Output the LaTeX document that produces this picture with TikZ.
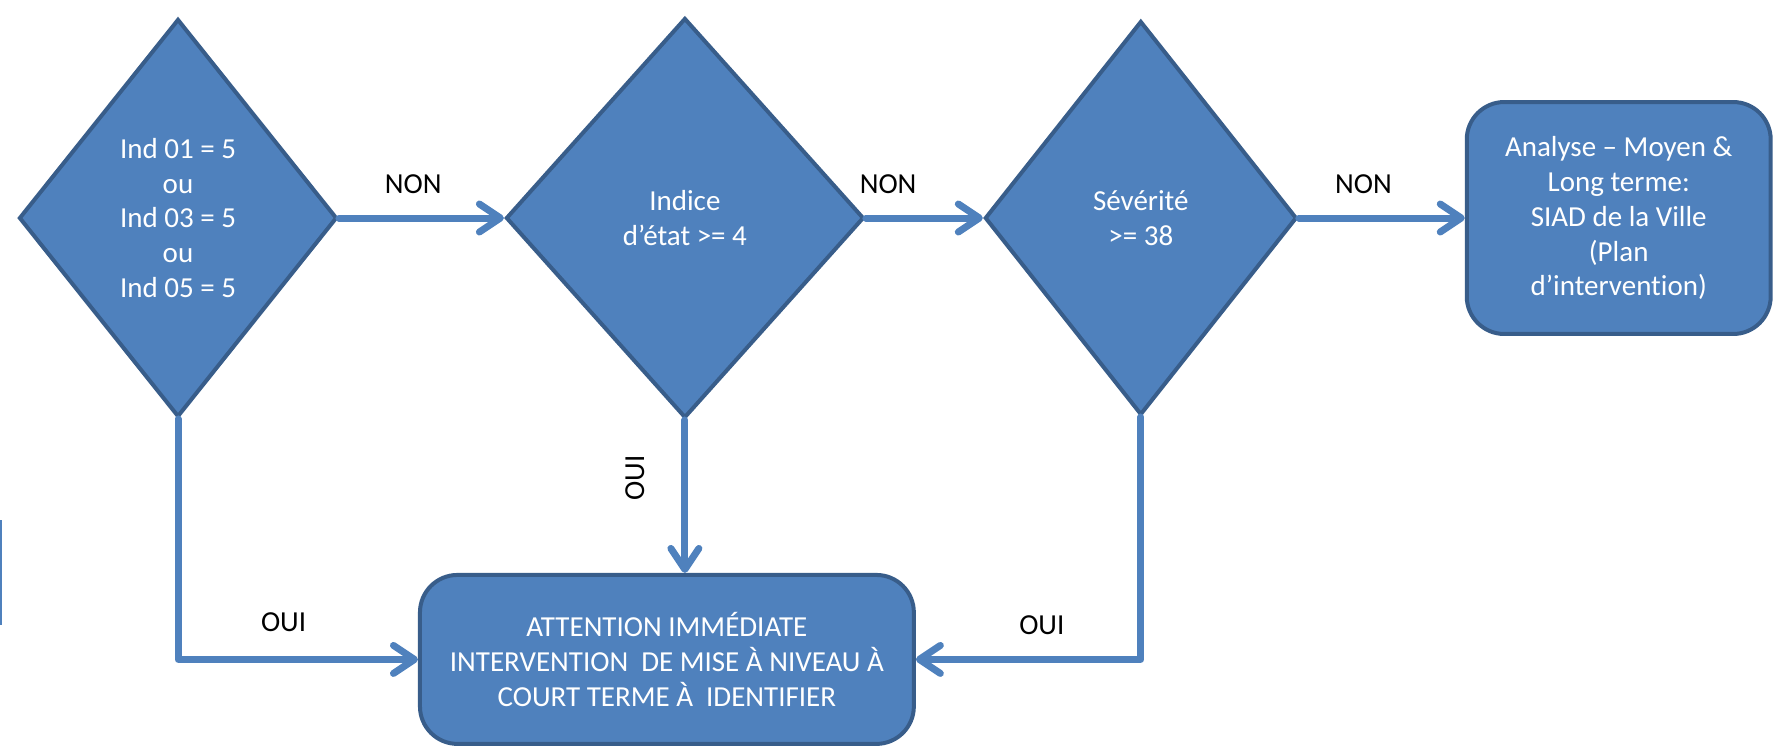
\documentclass[tikz,border=0pt]{standalone}
\usepackage{fontspec}
\setmainfont{Carlito}[Ligatures=NoCommon]
\usetikzlibrary{shapes.geometric, arrows.meta, positioning}
\definecolor{officeblue}{HTML}{4F81BD}
\definecolor{officeedge}{HTML}{385D8A}

\begin{document}
\begin{tikzpicture}[x=0.02cm, y=-0.02cm, node distance=3cm, thick]
        % Define block styles
        \tikzstyle{decision} = [diamond, draw=officeedge, fill=officeblue, line width=0.08cm, text=white, align=center, inner sep=0pt, font=\fontsize{16.5}{19.9}\selectfont]
        \tikzstyle{block} = [rectangle, draw=officeedge, fill=officeblue, line width=0.08cm, text=white, align=center, rounded corners=0.75cm, font=\fontsize{16.5}{19.9}\selectfont]
        \tikzstyle{answer} = [text=black, font=\fontsize{16.5}{19.9}\selectfont]
        \tikzstyle{line} = [draw=officeblue, line width=0.14cm, line join=round, line cap=round, -{Straight Barb[length=0.42cm, width=0.56cm, round]}]

        \useasboundingbox (0,0) rectangle (1775,752);

        % Define nodes
        \node [decision, minimum width=6.36cm, minimum height=7.96cm] (ind) at (178,218) {Ind 01 = 5\\ou\\Ind 03 = 5\\ou\\Ind 05 = 5};
        \node [decision, minimum width=7.16cm, minimum height=8.0cm, right=3.3cm of ind] (indice) {Indice\\d’état >= 4};
        \node [decision, minimum width=6.24cm, minimum height=7.88cm, right=2.34cm of indice] (sev) {Sévérité\\>= 38};
        \node [block, minimum width=6.08cm, minimum height=4.64cm, right=3.32cm of sev] (siad) {Analyse – Moyen \&\\Long terme:\\SIAD de la Ville\\(Plan\\d’intervention)};
        \node [block, minimum width=9.88cm, minimum height=3.38cm, below=3.06cm of indice, xshift=-0.36cm] (urgent) {ATTENTION IMMÉDIATE\\INTERVENTION\ \ DE MISE À NIVEAU À\\COURT TERME À\ \ IDENTIFIER};

        % Connect nodes with paths
        \draw[line] (ind) -- node[answer, pos=0.45, above=0.3cm] {NON} (indice);
        \draw[line] (indice) -- node[answer, pos=0.19, above=0.3cm] {NON} (sev);
        \draw[line] (sev) -- node[answer, pos=0.39, above=0.3cm] {NON} (siad);
        \draw[line] (ind.south) |- node[answer, pos=0.72, above=0.36cm] {OUI} (urgent.west);
        \draw[line] (indice.south) -- node[answer, pos=0.38, xshift=-1.0cm, rotate=90] {OUI} (indice.south |- urgent.north);
        \draw[line] (sev.south) |- node[answer, pos=0.72, above=0.3cm] {OUI} (urgent.east);

        % stray mark at the left edge
        \draw[officeblue, line width=0.04cm] (1,520) -- (1,625);

    \end{tikzpicture}
\end{document}
